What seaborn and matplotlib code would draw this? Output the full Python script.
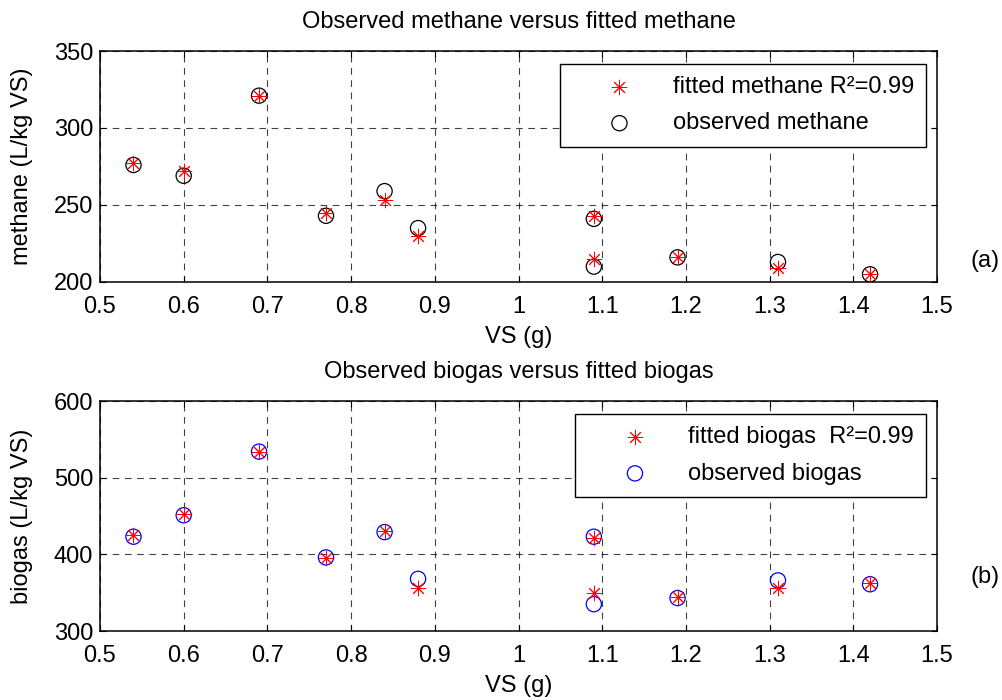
import numpy as np
import pandas as pd
import matplotlib
matplotlib.use("Agg")
import matplotlib.pyplot as plt
import seaborn as sns

# ---- data ----
vs = [0.54, 0.60, 0.69, 0.77, 0.84, 0.88, 1.09, 1.09, 1.19, 1.31, 1.42]
methane_fitted = [277, 272, 321, 245, 253, 230, 243, 215, 216, 209, 205]
methane_observed = [276, 269, 321, 243, 259, 235, 241, 210, 216, 213, 205]
biogas_fitted = [425, 452, 534, 395, 431, 356, 421, 350, 345, 356, 363]
biogas_observed = [423, 451, 534, 396, 429, 368, 423, 335, 343, 366, 361]
x_ticks = [0.5, 0.6, 0.7, 0.8, 0.9, 1.0, 1.1, 1.2, 1.3, 1.4, 1.5]
x_ticklabels = ["0.5", "0.6", "0.7", "0.8", "0.9", "1", "1.1", "1.2", "1.3", "1.4", "1.5"]
methane_ticks = [200, 250, 300, 350]
biogas_ticks = [300, 400, 500, 600]

sns.set_style("white")
plt.rcParams['font.family'] = ['Liberation Sans', 'DejaVu Sans']
plt.rcParams['text.color'] = 'black'
plt.rcParams['axes.labelcolor'] = 'black'
plt.rcParams['xtick.color'] = 'black'
plt.rcParams['ytick.color'] = 'black'

FS = 17
W, H = 1003, 700
fig = plt.figure(figsize=(W / 100, H / 100), dpi=100)

def px_axes(l, t, r, b):
    return fig.add_axes([l / W, 1 - b / H, (r - l) / W, (b - t) / H])

ax1 = px_axes(100, 51, 937, 282)
ax2 = px_axes(100, 401, 937, 631)

ast = (8, 2, 0)

def panel(ax, fitted, observed, obs_color, ylims, yticks, title,
          ylabel, fit_label, obs_label, leg_anchor):
    df = pd.DataFrame({"vs": vs, "fitted": fitted, "observed": observed})
    sns.scatterplot(data=df, x="vs", y="observed", ax=ax, marker="o", s=120,
                    facecolors="none", edgecolors=obs_color, linewidth=0.9,
                    label=obs_label, zorder=2)
    sns.scatterplot(data=df, x="vs", y="fitted", ax=ax, marker=ast, s=110,
                    color="red", edgecolor="red", linewidth=0.7,
                    label=fit_label, zorder=3)
    ax.set_xlim(0.5, 1.5)
    ax.set_ylim(*ylims)
    ax.set_xticks(x_ticks)
    ax.set_xticklabels(x_ticklabels, fontsize=FS, color="black")
    ax.set_yticks(yticks)
    ax.set_yticklabels([str(v) for v in yticks], fontsize=FS, color="black")
    ax.grid(True, color="black", linestyle=(0, (6, 5)), linewidth=0.8, alpha=0.75)
    for s in ax.spines.values():
        s.set_visible(True)
        s.set_color("black")
        s.set_linewidth(1.1)
    ax.tick_params(direction="in", length=4, width=0.8, colors="black",
                   top=True, right=True, bottom=True, left=True)
    ax.tick_params(axis="x", pad=10)
    ax.tick_params(axis="y", pad=5)
    ax.set_title(title, fontsize=FS, pad=16.5, color="black")
    ax.set_xlabel("VS (g)", fontsize=FS, color="black")
    ax.set_ylabel(ylabel, fontsize=FS, color="black")
    ax.yaxis.set_label_coords(-0.080, 0.5)
    ax.xaxis.set_label_coords(0.5, -0.19)
    h, l = ax.get_legend_handles_labels()
    leg = ax.legend([h[1], h[0]], [l[1], l[0]], loc="upper right",
                    bbox_to_anchor=leg_anchor, fontsize=FS, frameon=True,
                    fancybox=False, edgecolor="black", framealpha=1,
                    handletextpad=0.25, borderpad=0.52, labelspacing=0.6,
                    handlelength=4.0, borderaxespad=0.0, labelcolor="black")
    leg.get_frame().set_linewidth(1.0)

panel(ax1, methane_fitted, methane_observed, "black", (200, 350), methane_ticks,
      "Observed methane versus fitted methane",
      "methane (L/kg VS)",
      "fitted methane R²=0.99", "observed methane", (0.987, 0.944))
panel(ax2, biogas_fitted, biogas_observed, "blue", (300, 600), biogas_ticks,
      "Observed biogas versus fitted biogas",
      "biogas (L/kg VS)",
      "fitted biogas  R²=0.99", "observed biogas", (0.987, 0.943))

fig.text(985 / W, 1 - 261 / H, "(a)", fontsize=FS, ha="center", va="center", color="black")
fig.text(985 / W, 1 - 577 / H, "(b)", fontsize=FS, ha="center", va="center", color="black")

fig.savefig("out.png", dpi=100)
